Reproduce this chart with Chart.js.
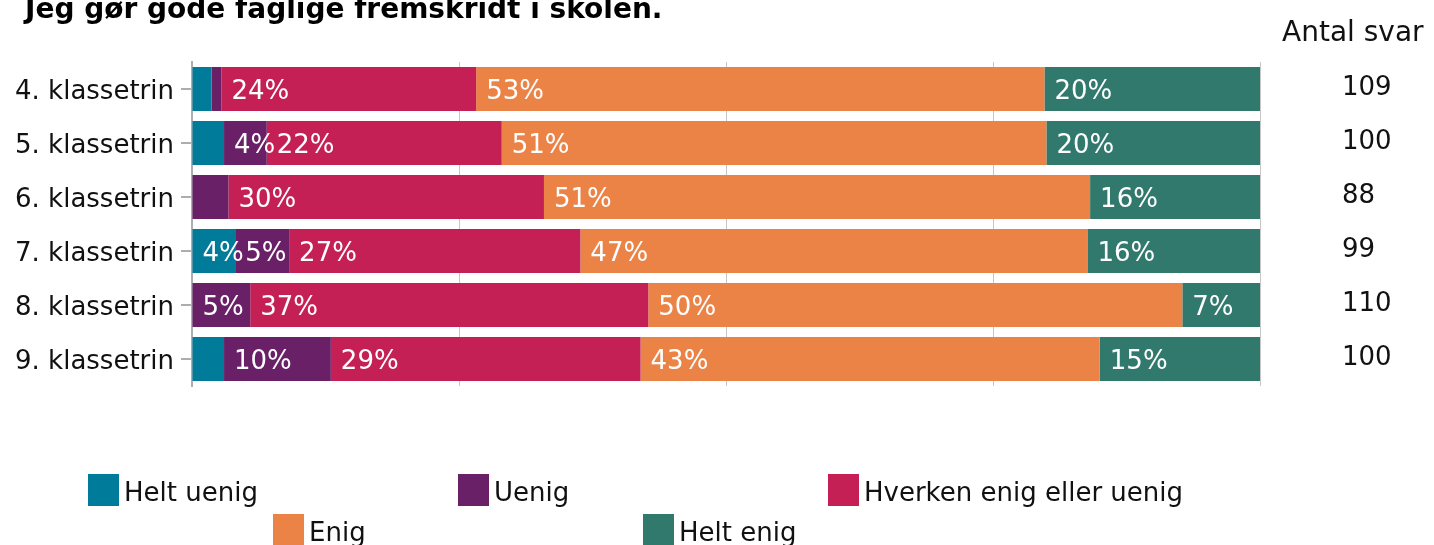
<!DOCTYPE html>
<html lang="da">
  <head>
    <meta charset="UTF-8" />
    <title>Jeg gør gode faglige fremskridt i skolen.</title>
    <script src="https://cdn.jsdelivr.net/npm/chart.js@4"></script>
    <style>
      body {
        margin: 0;
        background: #fff;
        font-family: "DejaVu Sans", Verdana, sans-serif;
      }
      .wrap {
        position: relative;
        width: 1434px;
        height: 545px;
        overflow: hidden;
      }
      #legend {
        position: absolute;
        left: 88px;
        top: 474px;
        width: 1110px;
        display: flex;
        flex-wrap: wrap;
        justify-content: center;
      }
      .item {
        width: 370px;
        height: 40px;
        display: flex;
        align-items: flex-start;
        font-size: 26px;
        line-height: 32px;
        color: #111;
      }
      .item span:last-child {
        padding-top: 2px;
      }
      .box {
        width: 31px;
        height: 32px;
        margin-right: 5px;
        flex: none;
      }
    </style>
  </head>
  <body>
    <div class="wrap">
      <canvas id="chart" width="1434" height="545"></canvas>
      <div id="legend"></div>
    </div>
    <script>
      const title = "Jeg gør gode faglige fremskridt i skolen.";
      const categories = [
        "4. klassetrin",
        "5. klassetrin",
        "6. klassetrin",
        "7. klassetrin",
        "8. klassetrin",
        "9. klassetrin",
      ];
      // number of answers per option
      const heltUenig = [2, 3, 0, 4, 0, 3];
      const uenig = [1, 4, 3, 5, 6, 10];
      const hverken = [26, 22, 26, 27, 41, 29];
      const enig = [58, 51, 45, 47, 55, 43];
      const heltEnig = [22, 20, 14, 16, 8, 15];
      const antalSvar = [109, 100, 88, 99, 110, 100];

      const font = "'DejaVu Sans', Verdana, sans-serif";

      function pct(arr) {
        return arr.map((v, i) => (v / antalSvar[i]) * 100);
      }

      let series = [
        { label: "Helt uenig", color: "#007b99", values: heltUenig },
        { label: "Uenig", color: "#6a2067", values: uenig },
        { label: "Hverken enig eller uenig", color: "#c42056", values: hverken },
        { label: "Enig", color: "#eb8347", values: enig },
        { label: "Helt enig", color: "#32796d", values: heltEnig },
      ];

      // white percent text inside each segment, left aligned
      const segmentLabels = {
        id: "segmentLabels",
        afterDatasetsDraw(chart) {
          let ctx = chart.ctx;
          ctx.save();
          ctx.font = "26px " + font;
          ctx.fillStyle = "#fff";
          ctx.textAlign = "left";
          ctx.textBaseline = "middle";
          chart.data.datasets.forEach((ds, di) => {
            chart.getDatasetMeta(di).data.forEach((bar, i) => {
              let p = Math.round(ds.data[i]);
              if (p < 4) return;
              ctx.fillText(p + "%", Math.min(bar.base, bar.x) + 10, bar.y + 3);
            });
          });
          ctx.restore();
        },
      };

      // title and the "Antal svar" column
      const extras = {
        id: "extras",
        afterDraw(chart) {
          let ctx = chart.ctx;
          let y = chart.scales.y;
          ctx.save();
          ctx.fillStyle = "#000";
          ctx.textAlign = "left";
          ctx.textBaseline = "alphabetic";
          ctx.font = "bold 28px " + font;
          ctx.fillText(title, 25, 18);
          ctx.fillStyle = "#111";
          ctx.font = "28px " + font;
          ctx.fillText("Antal svar", 1282, 41);
          ctx.font = "26px " + font;
          ctx.textBaseline = "middle";
          antalSvar.forEach((n, i) => {
            ctx.fillText(String(n), 1342, y.getPixelForValue(i) - 1);
          });
          ctx.restore();
        },
      };

      let chart = new Chart(document.getElementById("chart"), {
        type: "bar",
        data: {
          labels: categories,
          datasets: series.map((s) => ({
            label: s.label,
            data: pct(s.values),
            backgroundColor: s.color,
            borderWidth: 0,
            barPercentage: 0.815,
            categoryPercentage: 1,
          })),
        },
        options: {
          indexAxis: "y",
          responsive: false,
          animation: false,
          devicePixelRatio: 1,
          layout: { padding: { top: 62, right: 174, bottom: 159, left: 0 } },
          plugins: {
            legend: { display: false },
            tooltip: {
              callbacks: {
                label: (c) => c.dataset.label + ": " + Math.round(c.raw) + "%",
              },
            },
          },
          scales: {
            x: {
              stacked: true,
              min: 0,
              max: 100,
              ticks: { display: false, stepSize: 25 },
              grid: { color: "#c6c6c6", lineWidth: 1, drawTicks: false },
              border: { display: false },
              afterFit: (s) => {
                s.height = 0;
              },
            },
            y: {
              stacked: true,
              ticks: {
                color: "#111",
                font: { family: font, size: 26 },
                padding: 7,
                labelOffset: 3,
              },
              grid: {
                offset: false,
                drawOnChartArea: false,
                drawTicks: true,
                tickLength: 11,
                color: "#a9aeb3",
                lineWidth: 2,
              },
              border: { display: true, color: "#a9aeb3", width: 2 },
              afterFit: (s) => {
                s.width = 192;
              },
            },
          },
        },
        plugins: [segmentLabels, extras],
      });

      let legend = document.getElementById("legend");
      chart.data.datasets.forEach((ds) => {
        let item = document.createElement("div");
        item.className = "item";
        let box = document.createElement("span");
        box.className = "box";
        box.style.background = ds.backgroundColor;
        let text = document.createElement("span");
        text.textContent = ds.label;
        item.appendChild(box);
        item.appendChild(text);
        legend.appendChild(item);
      });
    </script>
  </body>
</html>
